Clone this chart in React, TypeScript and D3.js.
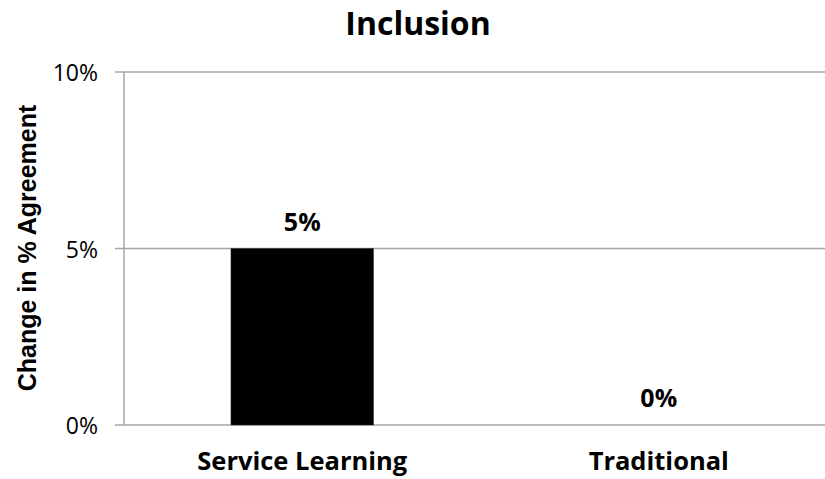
import React from "react";
import * as d3 from "d3";

const categories = ["Service Learning", "Traditional"];
const values = [5, 0];
const yTicks = [0, 5, 10];
const title = "Inclusion";
const yLabel = "Change in % Agreement";

export default function App() {
  const W = 825, H = 479;
  const left = 124, right = 837, top = 72, bottom = 425;
  const x = d3.scaleBand<string>().domain(categories).range([left, right]).paddingInner(0.6).paddingOuter(0.3);
  const y = d3.scaleLinear().domain([0, 10]).range([bottom, top]);
  const font = "'Open Sans', 'DejaVu Sans', sans-serif";
  return (
    <svg width={W} height={H} style={{ position: "absolute", left: 0, top: 0, background: "#fff" }}>
      <text x={418} y={35} textAnchor="middle" fontFamily={font} fontWeight="bold" fontSize={32} fill="#000">{title}</text>
      {yTicks.map((t) => (
        <g key={t}>
          <line x1={115} x2={W} y1={y(t)} y2={y(t)} stroke="#a6a6a6" strokeWidth={1.5} />
          <text x={98} y={y(t) + 9} textAnchor="end" fontFamily={font} fontSize={23} fill="#000">{t}%</text>
        </g>
      ))}
      <line x1={left} x2={left} y1={top} y2={bottom} stroke="#a6a6a6" strokeWidth={1.5} />
      {categories.map((c, i) => (
        <g key={c}>
          <rect x={x(c)} y={y(values[i])} width={x.bandwidth()} height={bottom - y(values[i])} fill="#000" stroke="#333" strokeWidth={0.5} />
          <text x={x(c)! + x.bandwidth() / 2} y={y(values[i]) - 18} textAnchor="middle" fontFamily={font} fontWeight="bold" fontSize={25} fill="#000">{values[i]}%</text>
          <text x={x(c)! + x.bandwidth() / 2} y={470} textAnchor="middle" fontFamily={font} fontWeight="bold" fontSize={25.5} fill="#000">{c}</text>
        </g>
      ))}
      <text transform={`translate(36,248) rotate(-90)`} textAnchor="middle" fontFamily="'Liberation Sans', Arial, sans-serif" fontWeight="bold" fontSize={25} fill="#000">{yLabel}</text>
    </svg>
  );
}
